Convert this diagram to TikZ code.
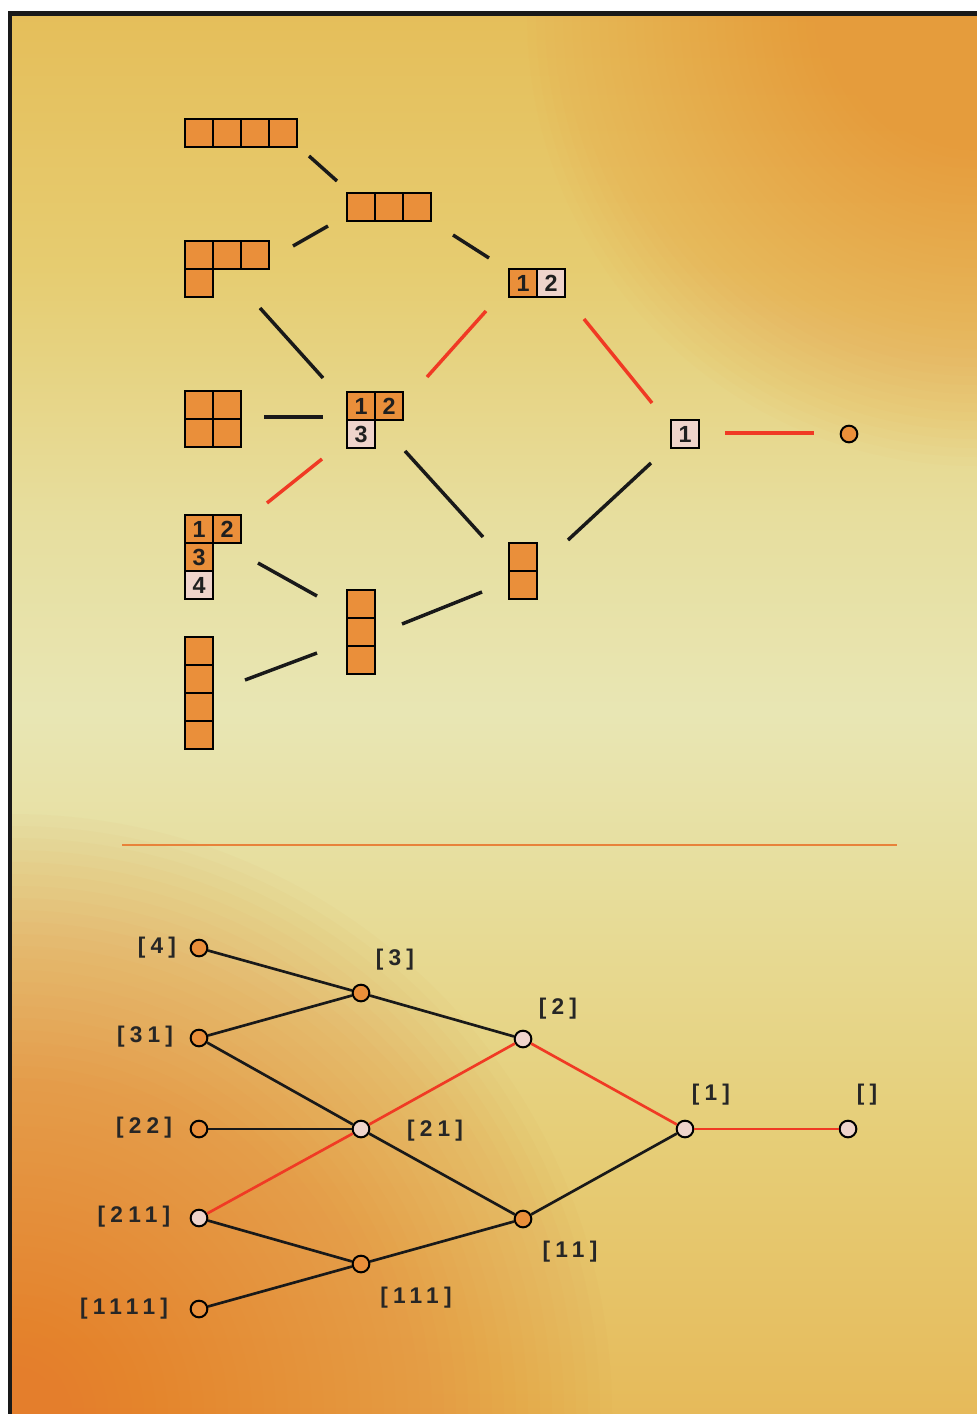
\documentclass[tikz,border=0pt]{standalone}
\usepackage{fontspec}
\newfontfamily\lblfont[LetterSpace=23]{Liberation Sans}
\newfontfamily\cellfont{Liberation Sans}
\definecolor{cor}{HTML}{EA8F3A}
\definecolor{cpk}{HTML}{EFD4CB}
\definecolor{cred}{HTML}{F03A24}
\definecolor{csep}{HTML}{E8823A}
\definecolor{v1}{HTML}{E6BA5A}
\definecolor{v2}{HTML}{E6CE78}
\definecolor{v3}{HTML}{E7DC98}
\definecolor{v4}{HTML}{E8E6B4}
\definecolor{v5}{HTML}{E7DE9E}
\definecolor{v6}{HTML}{E6CC70}
\definecolor{v7}{HTML}{E5BE5A}
\definecolor{glowTR}{HTML}{E99C3C}
\definecolor{glowBL}{HTML}{E47E2C}
\pgfdeclareverticalshading{bgshade}{100bp}{color(0bp)=(v1); color(25bp)=(v1); color(35bp)=(v2); color(43bp)=(v3); color(50bp)=(v4); color(57bp)=(v5); color(66bp)=(v6); color(75bp)=(v7); color(100bp)=(v7)}
\tikzset{
  cell/.style={draw=black, line width=1.6pt, minimum size=21pt, inner sep=0pt, text=black!88,
    font=\cellfont\bfseries\fontsize{17.5}{17.5}\selectfont},
  oc/.style={cell, fill=cor},
  pc/.style={cell, fill=cpk},
  dot/.style={circle, draw=black, line width=1.5pt, minimum size=12.5pt, inner sep=0pt},
  odot/.style={dot, fill=cor},
  pdot/.style={dot, fill=cpk},
  conn/.style={line width=2.6pt, draw=black!90},
  rconn/.style={line width=2.6pt, draw=cred},
  bl/.style={line width=2pt, draw=black!90},
  br/.style={line width=2pt, draw=cred},
  lbl/.style={inner sep=0pt, text=black!85, font=\lblfont\bfseries\fontsize{17}{17}\selectfont}
}
\begin{document}
\begin{tikzpicture}[x=0.75pt, y=-0.75pt]
\useasboundingbox (0,0) rectangle (977,1414);
\fill[white] (0,0) rectangle (977,1414);
\begin{scope}
\clip (10,13) rectangle (977,1414);
\shade[shading=bgshade] (10,13) rectangle (977,1414);
\foreach \k in {1,...,50} {
  \fill[glowTR, opacity=0.03] (977,16) circle ({9*\k});
  \fill[glowBL, opacity=0.032] (12,1414) circle ({12*\k});
}
\end{scope}
\draw[line width=3.4pt, black!90] (8,13.5) -- (977,13.5);
\draw[line width=3.4pt, black!90] (10,12) -- (10,1414);

% ---------- top: diagrams ----------
% [4]
\node[oc] (a41) at (199,133) {};
\node[oc] (a42) at (227,133) {};
\node[oc] (a43) at (255,133) {};
\node[oc] (a44) at (283,133) {};
% [3]
\node[oc] (a31) at (361,207) {};
\node[oc] (a32) at (389,207) {};
\node[oc] (a33) at (417,207) {};
% [31]
\node[oc] (b1) at (199,255) {};
\node[oc] (b2) at (227,255) {};
\node[oc] (b3) at (255,255) {};
\node[oc] (b4) at (199,283) {};
% [2]
\node[oc] (c1) at (523,283) {1};
\node[pc] (c2) at (551,283) {2};
% [22]
\node[oc] (d1) at (199,405) {};
\node[oc] (d2) at (227,405) {};
\node[oc] (d3) at (199,433) {};
\node[oc] (d4) at (227,433) {};
% [21]
\node[oc] (e1) at (361,406) {1};
\node[oc] (e2) at (389,406) {2};
\node[pc] (e3) at (361,434) {3};
% [1]
\node[pc] (f1) at (685,434) {1};
% []
\node[odot] (g0) at (849,434) {};
% [211]
\node[oc] (h1) at (199,529) {1};
\node[oc] (h2) at (227,529) {2};
\node[oc] (h3) at (199,557) {3};
\node[pc] (h4) at (199,585) {4};
% [11]
\node[oc] (i1) at (523,557) {};
\node[oc] (i2) at (523,585) {};
% [111]
\node[oc] (j1) at (361,604) {};
\node[oc] (j2) at (361,632) {};
\node[oc] (j3) at (361,660) {};
% [1111]
\node[oc] (k1) at (199,651) {};
\node[oc] (k2) at (199,679) {};
\node[oc] (k3) at (199,707) {};
\node[oc] (k4) at (199,735) {};

% connector end points (top)
\coordinate (t1a) at (309,156); \coordinate (t1b) at (337,181);
\coordinate (t2a) at (293,246); \coordinate (t2b) at (328,226);
\coordinate (t3a) at (453,235); \coordinate (t3b) at (489,258);
\coordinate (t4a) at (260,308); \coordinate (t4b) at (323,378);
\coordinate (t5a) at (486,311); \coordinate (t5b) at (427,377);
\coordinate (t6a) at (584,319); \coordinate (t6b) at (652,403);
\coordinate (t7a) at (725,433); \coordinate (t7b) at (814,433);
\coordinate (t8a) at (264,417); \coordinate (t8b) at (323,417);
\coordinate (t9a) at (322,459); \coordinate (t9b) at (267,503);
\coordinate (t10a) at (405,451); \coordinate (t10b) at (483,537);
\coordinate (t11a) at (651,463); \coordinate (t11b) at (568,540);
\coordinate (t12a) at (258,563); \coordinate (t12b) at (317,596);
\coordinate (t13a) at (402,624); \coordinate (t13b) at (482,592);
\coordinate (t14a) at (245,680); \coordinate (t14b) at (317,653);

\draw[conn] (t1a) -- (t1b);
\draw[conn] (t2a) -- (t2b);
\draw[conn] (t3a) -- (t3b);
\draw[conn] (t4a) -- (t4b);
\draw[rconn] (t5a) -- (t5b);
\draw[rconn] (t6a) -- (t6b);
\draw[rconn] (t7a) -- (t7b);
\draw[conn] (t8a) -- (t8b);
\draw[rconn] (t9a) -- (t9b);
\draw[conn] (t10a) -- (t10b);
\draw[conn] (t11a) -- (t11b);
\draw[conn] (t12a) -- (t12b);
\draw[conn] (t13a) -- (t13b);
\draw[conn] (t14a) -- (t14b);

% separator
\coordinate (s1) at (122,845); \coordinate (s2) at (897,845);
\draw[csep, line width=1.2pt] (s1) -- (s2);

% ---------- bottom: graph ----------
\node[odot] (n4) at (199,948) {};
\node[odot] (n3) at (361,993) {};
\node[odot] (n31) at (199,1038) {};
\node[pdot] (n2) at (523,1039) {};
\node[odot] (n22) at (199,1129) {};
\node[pdot] (n21) at (361,1129) {};
\node[pdot] (n1) at (685,1129) {};
\node[pdot] (n0) at (848,1129) {};
\node[pdot] (n211) at (199,1218) {};
\node[odot] (n11) at (523,1219) {};
\node[odot] (n111) at (361,1264) {};
\node[odot] (n1111) at (199,1309) {};

\draw[bl] (n4) -- (n3);
\draw[bl] (n31) -- (n3);
\draw[bl] (n3) -- (n2);
\draw[bl] (n31) -- (n21);
\draw[bl] (n21) -- (n11);
\draw[bl] (n22) -- (n21);
\draw[br] (n211) -- (n21);
\draw[br] (n21) -- (n2);
\draw[br] (n2) -- (n1);
\draw[br] (n1) -- (n0);
\draw[bl] (n211) -- (n111);
\draw[bl] (n1111) -- (n111);
\draw[bl] (n111) -- (n11);
\draw[bl] (n11) -- (n1);

\node[lbl] (L4) at (157,948) {[4]};
\node[lbl] (L3) at (395,960) {[3]};
\node[lbl] (L31) at (145,1037) {[31]};
\node[lbl] (L2) at (558,1009) {[2]};
\node[lbl] (L22) at (144,1128) {[22]};
\node[lbl] (L21) at (435,1131) {[21]};
\node[lbl] (L1) at (711,1095) {[1]};
\node[lbl] (L0) at (867,1095) {[]};
\node[lbl] (L211) at (134,1217) {[211]};
\node[lbl] (L11) at (570,1252) {[11]};
\node[lbl] (L111) at (416,1298) {[111]};
\node[lbl] (L1111) at (124,1309) {[1111]};
\end{tikzpicture}
\end{document}
